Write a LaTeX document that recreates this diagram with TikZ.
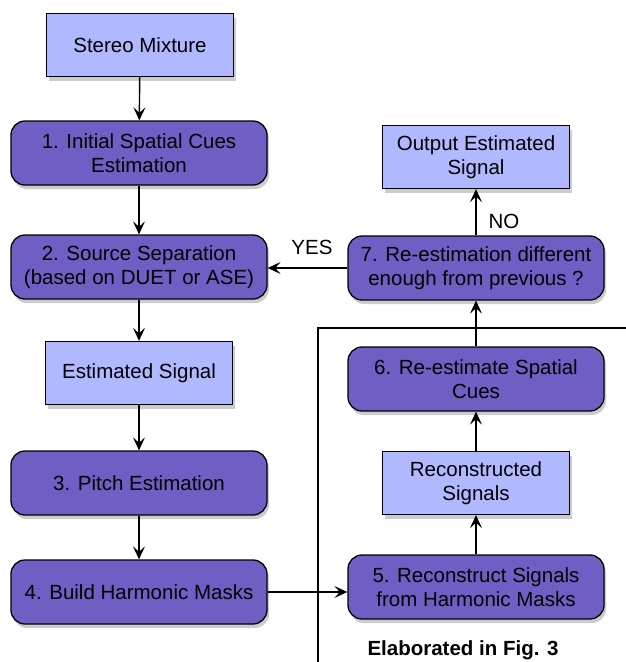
\documentclass[tikz,border=0pt]{standalone}
\usepackage{fontspec}
\setmainfont{Liberation Sans}
\usetikzlibrary{arrows.meta,shadows}
\definecolor{darkbox}{RGB}{112,94,196}
\definecolor{lightbox}{RGB}{176,184,255}
\begin{document}
\begin{tikzpicture}[x=1pt,y=-1pt,
  base/.style={draw=black,line width=1.3pt,align=center,inner sep=0pt,
    font=\fontsize{20.5}{24}\selectfont,
    drop shadow={shadow xshift=2pt,shadow yshift=-4pt,opacity=0.4}},
  procbox/.style={base,fill=darkbox,rounded corners=14pt,minimum width=256pt,minimum height=64pt},
  databox/.style={base,fill=lightbox,minimum width=187pt,minimum height=63pt},
  conn/.style={line width=1.4pt,-{Stealth[length=13pt,width=12pt,inset=5.5pt]}},
  lbl/.style={font=\fontsize{20.5}{24}\selectfont,inner sep=1pt}]
\useasboundingbox (0,0) rectangle (626,662);
% frame
\draw[line width=1.5pt] (318,662) -- (318,328) -- (627,328);
% left column
\node[databox] (sm) at (140,45) {Stereo Mixture};
\node[procbox] (s1) at (139,153) {1. Initial Spatial Cues\\Estimation};
\node[procbox] (s2) at (139,267) {2. Source Separation\\(based on DUET or ASE)};
\node[databox] (es) at (139,373) {Estimated Signal};
\node[procbox] (s3) at (139,483) {3. Pitch Estimation};
\node[procbox] (s4) at (139,592) {4. Build Harmonic Masks};
% right column
\node[databox] (out) at (476,157) {Output Estimated\\Signal};
\node[procbox] (s7) at (476,268) {7. Re-estimation different\\enough from previous ?};
\node[procbox] (s6) at (476,379) {6. Re-estimate Spatial\\Cues};
\node[databox] (rs) at (476,483) {Reconstructed\\Signals};
\node[procbox] (s5) at (476,587) {5. Reconstruct Signals\\from Harmonic Masks};
% connectors
\draw[conn] (sm) -- (s1);
\draw[conn] (s1) -- (s2);
\draw[conn] (s2) -- (es);
\draw[conn] (es) -- (s3);
\draw[conn] (s3) -- (s4);
\draw[conn] (s4.east) -- (s4.east -| s5.west);
\draw[conn] (s5) -- (rs);
\draw[conn] (rs) -- (s6);
\draw[conn] (s6) -- (s7);
\draw[conn] (s7) -- (out);
\draw[conn] (s7.west) -- (s7.west -| s2.east);
% labels
\node[lbl] (yes) at (312,247) {YES};
\node[lbl] (no) at (504,221) {NO};
\node[lbl,font=\fontsize{20.5}{24}\selectfont\bfseries] (elab) at (463,650) {Elaborated in Fig. 3};
\end{tikzpicture}
\end{document}
